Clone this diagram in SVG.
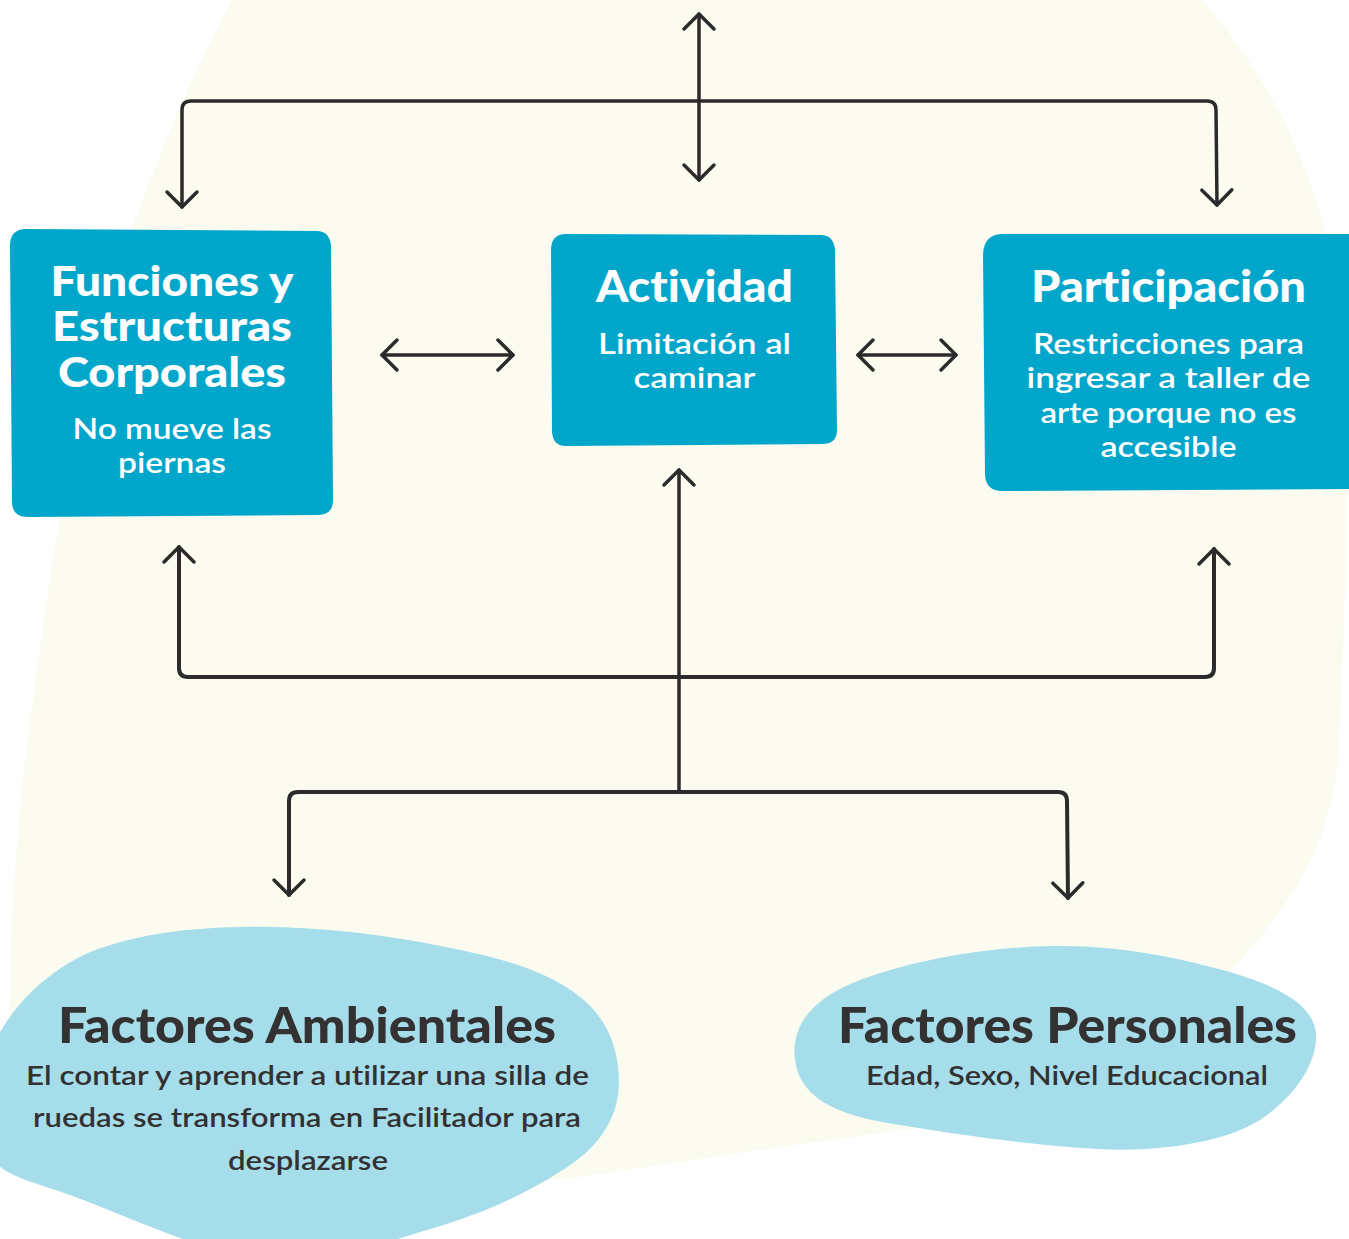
<svg xmlns="http://www.w3.org/2000/svg" width="1349" height="1239" viewBox="0 0 1349 1239">
<defs>
<style>
.box{fill:#02A6CB}
.blob{fill:#A6DDEA}
.bg{fill:#FBFCEF}
.t{font-family:Lato,"Open Sans","Liberation Sans",sans-serif;text-anchor:middle;font-variant-ligatures:none}
.bt{font-weight:900;font-size:43px;fill:#FFFFFF}
.bt1{font-size:41px}
.bs{font-weight:600;font-size:29px;fill:#FFFFFF}
.ft{font-weight:900;font-size:50px;fill:#333132}
.fs{font-weight:600;font-size:27px;fill:#333132}
.c{fill:none;stroke:#2C2A2B;stroke-width:3.5;stroke-linecap:round;stroke-linejoin:round}
</style>
<marker id="ah" markerUnits="userSpaceOnUse" viewBox="-20 -20 40 40" markerWidth="40" markerHeight="40" refX="0" refY="0" orient="auto-start-reverse" overflow="visible">
<path d="M -15,-15 L 0,0 L -15,15" fill="none" stroke="#2C2A2B" stroke-width="3.5" stroke-linecap="round" stroke-linejoin="round"/>
</marker>
</defs>
<rect width="1349" height="1239" fill="#FFFFFF"/>
<path class="bg" d="M 232,0 L 1203,0 C 1275,85 1322,180 1338,300 C 1352,420 1346,620 1338,760 C 1330,840 1300,895 1230,972 L 1100,1100 L 903,1130 L 760,1150 L 580,1177 L 300,1200 L 10,1120 C 6,1000 12,880 25,760 C 38,660 45,610 56,540 C 72,440 95,340 125,250 C 155,160 190,80 232,0 Z"/>
<g id="connectors">
<path class="c" d="M 699,14 V 180" marker-start="url(#ah)" marker-end="url(#ah)"/>
<path class="c" d="M 182,207 V 110 Q 182,101 191,101 H 1207 Q 1216,101 1216,110 L 1217,205" marker-start="url(#ah)" marker-end="url(#ah)"/>
<path class="c" d="M 382,355 H 513" marker-start="url(#ah)" marker-end="url(#ah)"/>
<path class="c" d="M 858,355 H 956" marker-start="url(#ah)" marker-end="url(#ah)"/>
<path class="c" d="M 679,470 V 792" marker-start="url(#ah)"/>
<path class="c" style="stroke-width:4" d="M 179,547 V 668 Q 179,677 188,677 H 1205 Q 1214,677 1214,668 V 549" marker-start="url(#ah)" marker-end="url(#ah)"/>
<path class="c" style="stroke-width:4" d="M 289,895 V 801 Q 289,792 298,792 H 1058 Q 1067,792 1067,801 L 1068,898" marker-start="url(#ah)" marker-end="url(#ah)"/>
</g>
<g id="funciones">
<path class="box" d="M 26,229 L 318,231 Q 330,232 331,246 L 333,500 Q 333,515 318,515 L 28,517 Q 12,517 12,502 L 10,246 Q 10,229 26,229 Z"/>
<text class="t bt bt1" x="172" y="296" textLength="243" lengthAdjust="spacingAndGlyphs">Funciones y</text>
<text class="t bt bt1" x="172" y="341" textLength="240" lengthAdjust="spacingAndGlyphs">Estructuras</text>
<text class="t bt bt1" x="172" y="387" textLength="228" lengthAdjust="spacingAndGlyphs">Corporales</text>
<text class="t bs" x="172" y="439" textLength="199" lengthAdjust="spacingAndGlyphs">No mueve las</text>
<text class="t bs" x="172" y="473" textLength="108" lengthAdjust="spacingAndGlyphs">piernas</text>
</g>
<g id="actividad">
<path class="box" d="M 566,234 L 822,235 Q 834,236 835,250 L 837,430 Q 837,444 822,444 L 566,446 Q 553,446 552,432 L 551,250 Q 551,234 566,234 Z"/>
<text class="t bt" x="694.5" y="302" textLength="197" lengthAdjust="spacingAndGlyphs">Actividad</text>
<text class="t bs" x="694.5" y="354" textLength="193" lengthAdjust="spacingAndGlyphs">Limitación al</text>
<text class="t bs" x="694.5" y="388" textLength="122" lengthAdjust="spacingAndGlyphs">caminar</text>
</g>
<g id="participacion">
<path class="box" d="M 1003,234 L 1349,234 L 1349,489 L 1002,491 Q 986,491 985,475 L 983,254 Q 984,234 1003,234 Z"/>
<text class="t bt" x="1168.5" y="302" textLength="275" lengthAdjust="spacingAndGlyphs">Participación</text>
<text class="t bs" x="1168.5" y="354" textLength="271" lengthAdjust="spacingAndGlyphs">Restricciones para</text>
<text class="t bs" x="1168.5" y="388" textLength="284" lengthAdjust="spacingAndGlyphs">ingresar a taller de</text>
<text class="t bs" x="1168.5" y="423" textLength="256" lengthAdjust="spacingAndGlyphs">arte porque no es</text>
<text class="t bs" x="1168.5" y="457" textLength="136" lengthAdjust="spacingAndGlyphs">accesible</text>
</g>
<g id="ambientales">
<path class="blob" d="M 241,927 C 330,925 420,940 491,957 C 570,978 612,1010 618,1067 C 624,1115 600,1148 558,1173 C 515,1200 470,1218 420,1232 L 380,1245 L 200,1245 C 140,1225 90,1200 40,1185 C 10,1175 -10,1165 -10,1150 L -10,1050 C 10,1010 40,975 90,952 C 140,933 190,928 241,927 Z"/>
<text class="t ft" x="307" y="1043" textLength="498" lengthAdjust="spacingAndGlyphs">Factores Ambientales</text>
<text class="t fs" x="307.5" y="1085" textLength="563" lengthAdjust="spacingAndGlyphs">El contar y aprender a utilizar una silla de</text>
<text class="t fs" x="307" y="1127" textLength="548" lengthAdjust="spacingAndGlyphs">ruedas se transforma en Facilitador para</text>
<text class="t fs" x="308" y="1170" textLength="160" lengthAdjust="spacingAndGlyphs">desplazarse</text>
</g>
<g id="personales">
<path class="blob" d="M 1053,946 C 1120,945 1180,958 1230,972 C 1290,990 1318,1010 1316,1040 C 1314,1070 1290,1100 1260,1120 C 1220,1145 1150,1152 1098,1149 C 1030,1145 960,1135 900,1125 C 830,1115 800,1095 795,1060 C 790,1020 820,995 860,980 C 920,958 990,947 1053,946 Z"/>
<text class="t ft" x="1067.5" y="1043" textLength="459" lengthAdjust="spacingAndGlyphs">Factores Personales</text>
<text class="t fs" x="1067" y="1085" textLength="402" lengthAdjust="spacingAndGlyphs">Edad, Sexo, Nivel Educacional</text>
</g>
</svg>
